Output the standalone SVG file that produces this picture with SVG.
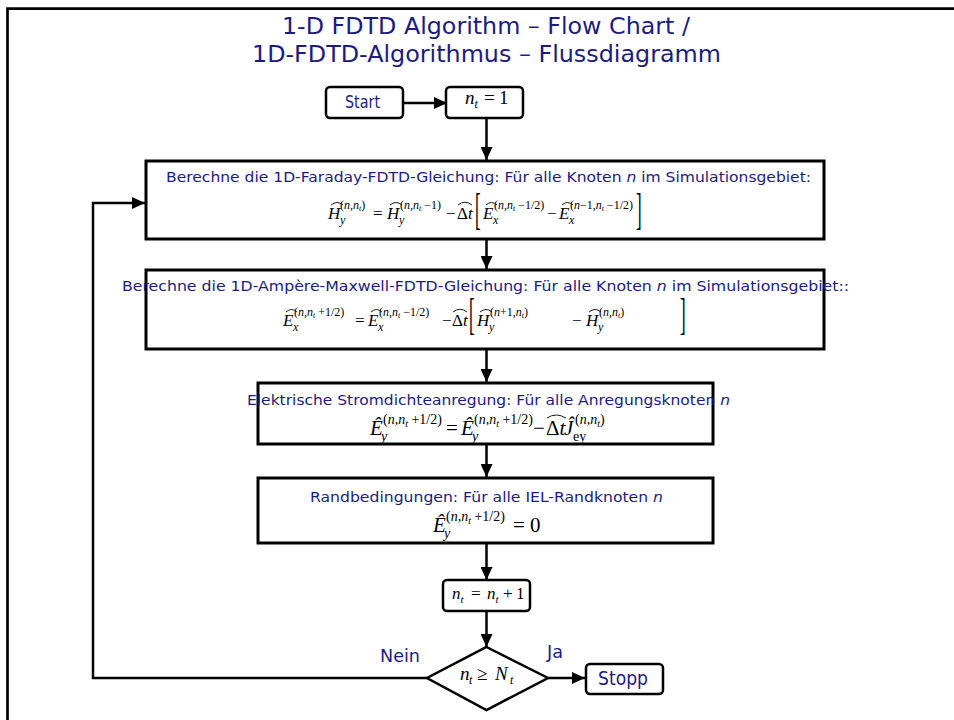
<svg xmlns="http://www.w3.org/2000/svg" width="954" height="720" viewBox="0 0 954 720">
<defs>
<style>
.lbl{font-family:"DejaVu Sans","Verdana",sans-serif;fill:#1c1c80}
.m{font-family:"Liberation Serif","Times New Roman",serif;fill:#000}
.it{font-style:italic}
.box{fill:#fff;stroke:#000;stroke-width:3}
.rbox{fill:#fff;stroke:#000;stroke-width:2.5}
.conn{stroke:#000;stroke-width:2.5;fill:none}
.hat{stroke:#000;stroke-width:0.9;fill:none}
</style>
<marker id="ah" markerWidth="13" markerHeight="12" refX="13" refY="6" orient="auto" markerUnits="userSpaceOnUse"><path d="M0,0 L13,6 L0,12 z" fill="#000"/></marker>
</defs>
<rect width="954" height="720" fill="#fff"/>
<path d="M7.5,720 L7.5,8.7 L954,8.7" fill="none" stroke="#000" stroke-width="2.7"/>

<g id="title" class="lbl">
<text x="282" y="34" font-size="23" textLength="408" lengthAdjust="spacingAndGlyphs">1-D FDTD Algorithm – Flow Chart /</text>
<text x="252" y="62" font-size="23" textLength="469" lengthAdjust="spacingAndGlyphs">1D-FDTD-Algorithmus – Flussdiagramm</text>
</g>

<g id="connectors">
<line class="conn" x1="403" y1="103" x2="447" y2="103" marker-end="url(#ah)"/>
<line class="conn" x1="486.5" y1="118" x2="486.5" y2="160" marker-end="url(#ah)"/>
<line class="conn" x1="486.5" y1="239" x2="486.5" y2="269" marker-end="url(#ah)"/>
<line class="conn" x1="486.5" y1="349" x2="486.5" y2="382" marker-end="url(#ah)"/>
<line class="conn" x1="486.5" y1="444" x2="486.5" y2="477" marker-end="url(#ah)"/>
<line class="conn" x1="486.5" y1="543" x2="486.5" y2="580" marker-end="url(#ah)"/>
<line class="conn" x1="486.5" y1="611" x2="486.5" y2="647" marker-end="url(#ah)"/>
<line class="conn" x1="548" y1="678" x2="585" y2="678" marker-end="url(#ah)"/>
<polyline class="conn" points="427,678 93,678 93,203 145,203" marker-end="url(#ah)"/>
</g>

<g id="start">
<rect class="rbox" x="326" y="87" width="77" height="31" rx="4"/>
<text class="lbl" x="345" y="108" font-size="17" textLength="35" lengthAdjust="spacingAndGlyphs">Start</text>
</g>

<g id="init">
<rect class="rbox" x="446" y="87" width="77" height="31" rx="4"/>
<text class="m" y="104" font-size="19"><tspan x="465" class="it">n</tspan><tspan x="474.5" y="108" font-size="12" class="it">t</tspan><tspan x="484" y="104">=</tspan><tspan x="499" y="104">1</tspan></text>
</g>

<g id="faraday">
<rect class="box" x="146" y="161" width="678" height="78"/>
<text class="lbl" x="166" y="182" font-size="14" textLength="645" lengthAdjust="spacingAndGlyphs">Berechne die 1D-Faraday-FDTD-Gleichung: Für alle Knoten <tspan class="it">n</tspan> im Simulationsgebiet:</text>
<g class="m" font-size="17">
<text x="328" y="219" class="it">H</text>
<text x="340" y="224" font-size="12" class="it">y</text>
<text x="340" y="209" font-size="12">(<tspan class="it">n,n</tspan><tspan font-size="8" dy="2" class="it">t</tspan><tspan dy="-2">)</tspan></text>
<text x="373" y="219">=</text>
<text x="387" y="219" class="it">H</text>
<text x="399" y="224" font-size="12" class="it">y</text>
<text x="400" y="209" font-size="12">(<tspan class="it">n,n</tspan><tspan font-size="8" dy="2" class="it">t</tspan><tspan dy="-2"> −1)</tspan></text>
<text x="446" y="219">−</text>
<text x="457" y="219">Δ<tspan class="it">t</tspan></text>
<text transform="translate(475,224.3) scale(1,2.55)" x="0" y="0">[</text>
<text x="483" y="219" class="it">E</text>
<text x="493" y="224" font-size="12" class="it">x</text>
<text x="494" y="209" font-size="12">(<tspan class="it">n,n</tspan><tspan font-size="8" dy="2" class="it">t</tspan><tspan dy="-2"> −1/2)</tspan></text>
<text x="547" y="219">−</text>
<text x="559" y="219" class="it">E</text>
<text x="569" y="224" font-size="12" class="it">x</text>
<text x="570" y="209" font-size="12">(<tspan class="it">n</tspan>−1,<tspan class="it">n</tspan><tspan font-size="8" dy="2" class="it">t</tspan><tspan dy="-2"> −1/2)</tspan></text>
<text transform="translate(636,224.3) scale(1,2.55)" x="0" y="0">]</text>
</g>
<path class="hat" d="M331,205 Q337,200 343,205 M390,205 Q396,200 402,205 M458,205 Q465,199.5 472,205 M486,205 Q491.5,200 497,205 M562,205 Q567.5,200 573,205"/>
</g>

<g id="ampere">
<rect class="box" x="146" y="270" width="678" height="79"/>
<text class="lbl" x="122" y="291" font-size="14" textLength="727" lengthAdjust="spacingAndGlyphs">Berechne die 1D-Ampère-Maxwell-FDTD-Gleichung: Für alle Knoten <tspan class="it">n</tspan> im Simulationsgebiet::</text>
<g class="m" font-size="17">
<text x="283" y="326" class="it">E</text>
<text x="293" y="331" font-size="12" class="it">x</text>
<text x="294" y="316" font-size="12">(<tspan class="it">n,n</tspan><tspan font-size="8" dy="2" class="it">t</tspan><tspan dy="-2"> +1/2)</tspan></text>
<text x="355" y="326">=</text>
<text x="368" y="326" class="it">E</text>
<text x="378" y="331" font-size="12" class="it">x</text>
<text x="379" y="316" font-size="12">(<tspan class="it">n,n</tspan><tspan font-size="8" dy="2" class="it">t</tspan><tspan dy="-2"> −1/2)</tspan></text>
<text x="442" y="326">−</text>
<text x="452" y="326">Δ<tspan class="it">t</tspan></text>
<text transform="translate(469,329.3) scale(1,2.55)" x="0" y="0">[</text>
<text x="477" y="326" class="it">H</text>
<text x="489" y="331" font-size="12" class="it">y</text>
<text x="490" y="316" font-size="12">(<tspan class="it">n</tspan>+1,<tspan class="it">n</tspan><tspan font-size="8" dy="2" class="it">t</tspan><tspan dy="-2">)</tspan></text>
<text x="572" y="326">−</text>
<text x="586" y="326" class="it">H</text>
<text x="598" y="331" font-size="12" class="it">y</text>
<text x="599" y="316" font-size="12">(<tspan class="it">n,n</tspan><tspan font-size="8" dy="2" class="it">t</tspan><tspan dy="-2">)</tspan></text>
<text transform="translate(680,329.3) scale(1,2.55)" x="0" y="0">]</text>
</g>
<path class="hat" d="M286,312 Q291.5,307 297,312 M371,312 Q376.5,307 382,312 M453,312 Q460,306.5 467,312 M480,312 Q486,307 492,312 M589,312 Q595,307 601,312"/>
</g>

<g id="excitation">
<rect class="box" x="258" y="383" width="455" height="61"/>
<text class="lbl" x="247" y="405" font-size="14" textLength="483" lengthAdjust="spacingAndGlyphs">Elektrische Stromdichteanregung: Für alle Anregungsknoten  <tspan class="it">n</tspan></text>
<g class="m" font-size="21">
<text x="370" y="435" class="it">Ê</text>
<text x="381" y="441" font-size="14" class="it">y</text>
<text x="383" y="424" font-size="14">(<tspan class="it">n,n</tspan><tspan font-size="10" dy="3" class="it">t</tspan><tspan dy="-3"> +1/2)</tspan></text>
<text x="446" y="435">=</text>
<text x="461" y="435" class="it">Ê</text>
<text x="472" y="441" font-size="14" class="it">y</text>
<text x="474" y="424" font-size="14">(<tspan class="it">n,n</tspan><tspan font-size="10" dy="3" class="it">t</tspan><tspan dy="-3"> +1/2)</tspan></text>
<text x="533" y="435">−</text>
<text x="546" y="435">Δ<tspan class="it">t</tspan></text>
<text x="564" y="435" class="it">Ĵ</text>
<text x="573" y="441" font-size="14">ey</text>
<text x="575" y="424" font-size="14">(<tspan class="it">n,n</tspan><tspan font-size="10" dy="3" class="it">t</tspan><tspan dy="-3">)</tspan></text>
</g>
<path class="hat" d="M547,418 Q556,412 566,418"/>
</g>

<g id="boundary">
<rect class="box" x="258" y="478" width="455" height="65"/>
<text class="lbl" x="310" y="502" font-size="14" textLength="353" lengthAdjust="spacingAndGlyphs">Randbedingungen: Für alle IEL-Randknoten  <tspan class="it">n</tspan></text>
<g class="m" font-size="21">
<text x="433" y="532" class="it">Ê</text>
<text x="444" y="538" font-size="14" class="it">y</text>
<text x="446" y="521" font-size="14">(<tspan class="it">n,n</tspan><tspan font-size="10" dy="3" class="it">t</tspan><tspan dy="-3"> +1/2)</tspan></text>
<text x="513" y="532">=</text>
<text x="530" y="532">0</text>
</g>
</g>

<g id="increment">
<rect class="rbox" x="443" y="580" width="87" height="31" rx="4"/>
<text class="m" y="599" font-size="17"><tspan x="452" class="it">n</tspan><tspan x="460.5" y="603" font-size="11" class="it">t</tspan><tspan x="471" y="599">=</tspan><tspan x="487" y="599" class="it">n</tspan><tspan x="495.5" y="603" font-size="11" class="it">t</tspan><tspan x="503" y="599">+</tspan><tspan x="516" y="599">1</tspan></text>
</g>

<g id="decision">
<polygon points="486.5,647 548,678 486.5,710 427,678" fill="#fff" stroke="#000" stroke-width="2.5"/>
<text class="m" y="680" font-size="19"><tspan x="460" class="it">n</tspan><tspan x="469" y="684" font-size="12" class="it">t</tspan><tspan x="477" y="680">≥</tspan><tspan x="495" y="680" class="it">N</tspan><tspan x="510" y="684" font-size="12" class="it">t</tspan></text>
<text class="lbl" x="380" y="662" font-size="18" textLength="40" lengthAdjust="spacingAndGlyphs">Nein</text>
<text class="lbl" x="547" y="658" font-size="18" textLength="16" lengthAdjust="spacingAndGlyphs">Ja</text>
</g>

<g id="stop">
<rect class="rbox" x="586" y="664" width="77" height="30" rx="4"/>
<text class="lbl" x="598" y="685" font-size="19" textLength="50" lengthAdjust="spacingAndGlyphs">Stopp</text>
</g>
</svg>
